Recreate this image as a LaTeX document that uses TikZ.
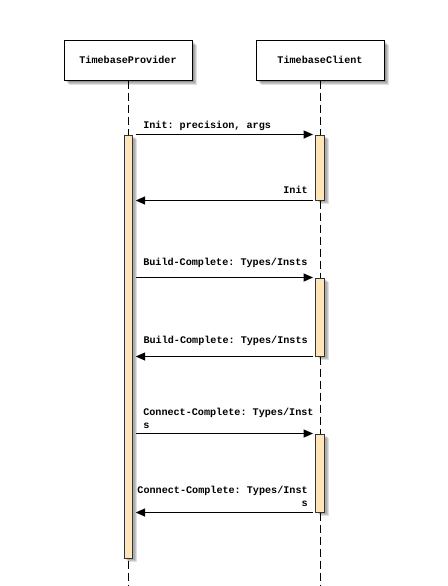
\documentclass[tikz,border=0pt]{standalone}
\usepackage{fontspec}
\setmonofont{Liberation Mono}
\usetikzlibrary{arrows.meta}
\definecolor{actfill}{RGB}{255,229,184}
\begin{document}
\begin{tikzpicture}[x=0.75pt,y=-0.75pt,
  every node/.style={font=\ttfamily\bfseries\fontsize{7.6pt}{9.75pt}\selectfont},
  actor/.style={draw=black,line width=0.75pt,fill=white,minimum width=96pt,minimum height=30pt,inner sep=0pt},
  act/.style={draw=black!80,line width=0.75pt,fill=actfill,minimum width=6.5pt,inner sep=0pt},
  lifeline/.style={line width=0.75pt,dash pattern=on 6pt off 3pt},
  msg/.style={line width=0.75pt,-{Triangle[length=7pt,width=6pt]},shorten >=1.8pt,shorten <=1.8pt},
  lbl/.style={inner sep=0pt},
  shadowbox/.style={fill=black,opacity=0.12,draw=none}]
\useasboundingbox (0,0) rectangle (448,586);
% shadows of actor boxes
\foreach \o in {2,3,4,5}{
  \fill[shadowbox] (64+\o,40+\o) rectangle (192+\o,80+\o);
  \fill[shadowbox] (256+\o,40+\o) rectangle (384+\o,80+\o);
}
\node[actor] (prov) at (128,60) {TimebaseProvider};
\node[actor] (cli) at (320,60) {TimebaseClient};
\coordinate (provend) at (128,586);
\coordinate (cliend) at (320,586);
\draw[lifeline] (prov.south) -- (provend);
\draw[lifeline] (cli.south) -- (cliend);
% activation shadows
\foreach \o in {2,3,4}{
  \fill[shadowbox] (124+\o,135+\o) rectangle (133+\o,558+\o);
  \fill[shadowbox] (316+\o,135+\o) rectangle (324.5+\o,200+\o);
  \fill[shadowbox] (316+\o,278+\o) rectangle (324.5+\o,356+\o);
  \fill[shadowbox] (316+\o,434+\o) rectangle (324.5+\o,512+\o);
}
\node[act,minimum height=317.25pt] (pa) at (128.5,346.5) {};
\node[act,minimum height=48.75pt] (ca1) at (320.25,167.5) {};
\node[act,minimum height=58.5pt] (ca2) at (320.25,317) {};
\node[act,minimum height=58.5pt] (ca3) at (320.25,473) {};
% messages
\draw[msg] (pa.north east) -- (ca1.north west);
\node[lbl,anchor=west] (l1) at (143,126) {Init: precision, args};
\draw[msg] (ca1.south west) -- (pa.east |- ca1.south);
\node[lbl,anchor=east] (l2) at (308,190) {Init};
\draw[msg] (pa.east |- ca2.north) -- (ca2.north west);
\node[lbl,anchor=west] (l3) at (143,263) {Build-Complete: Types/Insts};
\draw[msg] (ca2.south west) -- (pa.east |- ca2.south);
\node[lbl,anchor=east] (l4) at (308,341) {Build-Complete: Types/Insts};
\draw[msg] (pa.east |- ca3.north) -- (ca3.north west);
\node[lbl,anchor=west,align=left] (l5) at (143,418) {Connect-Complete: Types/Inst\\s};
\draw[msg] (ca3.south west) -- (pa.east |- ca3.south);
\node[lbl,anchor=east,align=right] (l6) at (308,496) {Connect-Complete: Types/Inst\\s};
\end{tikzpicture}
\end{document}
